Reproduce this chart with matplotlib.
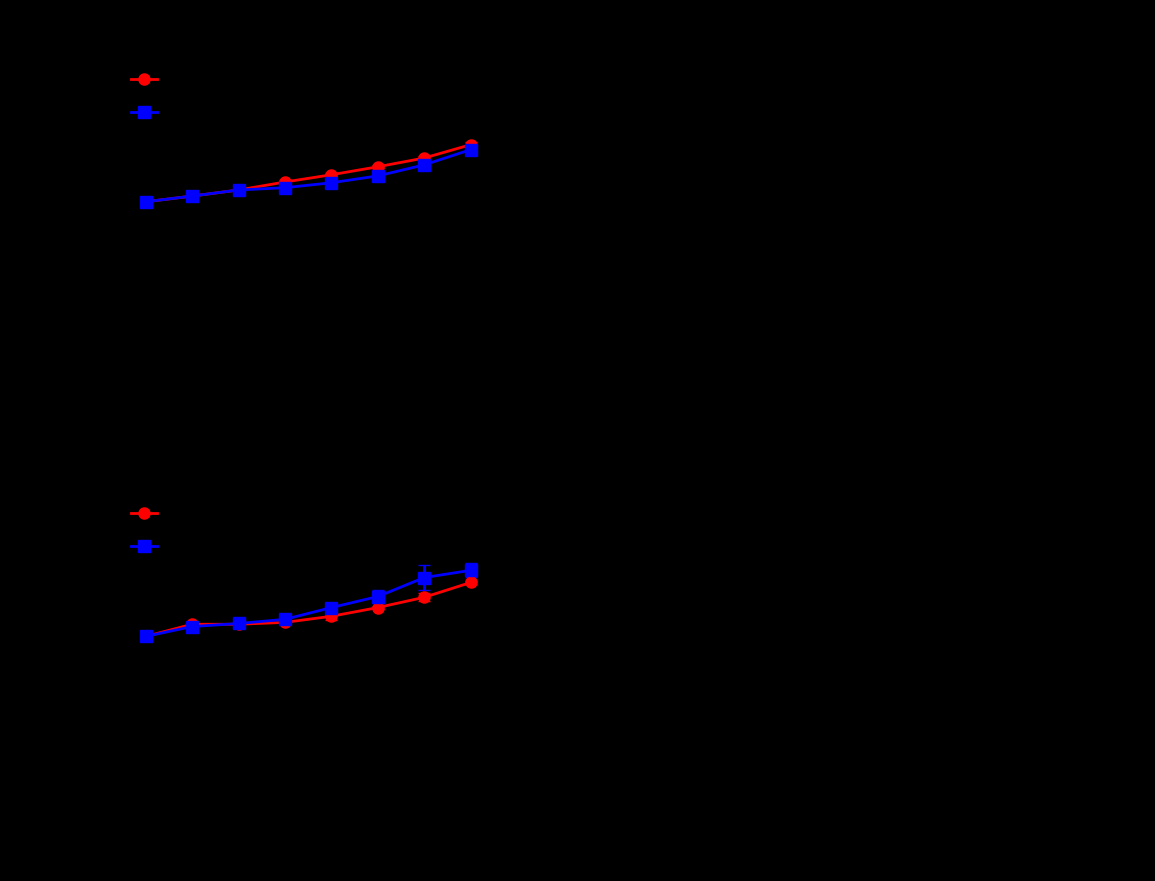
import matplotlib.pyplot as plt
from matplotlib.lines import Line2D
import numpy as np

# eight sampling points, two conditions per panel
x = np.arange(1, 9)

top_red = [57.4, 58.9, 60.5, 62.6, 64.5, 66.6, 68.9, 72.4]
top_blue = [57.4, 58.9, 60.5, 61.1, 62.4, 64.2, 67.1, 71.1]
top_red_err = [0.3, 0.3, 0.3, 0.4, 0.4, 0.4, 0.5, 0.8]
top_blue_err = [0.3, 0.3, 0.3, 0.4, 0.4, 0.5, 0.6, 0.8]

bot_red = [56.3, 59.5, 59.5, 60.0, 61.6, 63.9, 66.6, 70.5]
bot_blue = [56.3, 58.9, 59.7, 60.8, 63.9, 66.8, 71.8, 73.7]
bot_red_err = [0.3, 0.4, 0.4, 0.4, 1.0, 0.4, 1.0, 0.5]
bot_blue_err = [0.3, 0.4, 0.5, 0.5, 1.2, 1.6, 3.3, 1.8]

labels = ['Control', 'Treated']

bg = 'black'
fig = plt.figure(figsize=(11.55, 8.81), dpi=100, facecolor=bg)

panels = [
    ([0.10, 0.523, 0.33, 0.432], (0, 100), 0.957, top_red, top_blue, top_red_err, top_blue_err),
    ([0.10, 0.069, 0.33, 0.397], (7.9, 100), 0.945, bot_red, bot_blue, bot_red_err, bot_blue_err),
]

for pos, ylim, leg_y, red, blue, rerr, berr in panels:
    ax = fig.add_axes(pos)
    ax.set_facecolor(bg)
    ax.errorbar(x, red, yerr=rerr, color='red', marker='o', markersize=8,
                linewidth=2, capsize=4)
    ax.errorbar(x, blue, yerr=berr, color='blue', marker='s', markersize=8,
                linewidth=2, capsize=4)
    ax.set_xlim(0.35, 8.56)
    ax.set_ylim(*ylim)
    ax.set_xlabel('Time (weeks)', color='black')
    ax.set_ylabel('Value', color='black')
    ax.tick_params(colors='black')
    for s in ax.spines.values():
        s.set_color('black')
    handles = [Line2D([], [], color='red', marker='o', markersize=8, linewidth=2),
               Line2D([], [], color='blue', marker='s', markersize=8, linewidth=2)]
    leg = ax.legend(handles, labels, loc='upper left', frameon=False, fontsize=12,
                    handlelength=1.6, labelspacing=0.9,
                    bbox_to_anchor=(0.0, leg_y))
    for t in leg.get_texts():
        t.set_color('black')

fig.savefig('out.png', dpi=100, facecolor=bg)
